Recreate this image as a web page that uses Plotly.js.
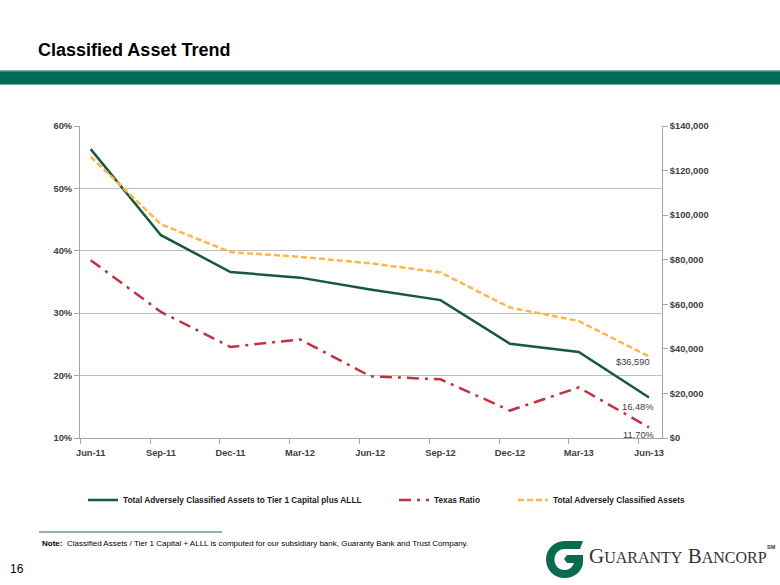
<!DOCTYPE html>
<html>
<head>
<meta charset="utf-8">
<script src="https://cdn.plot.ly/plotly-3.0.1.min.js"></script>
<style>
  html, body { margin: 0; padding: 0; background: #ffffff; }
  #chart { width: 780px; height: 585px; }
</style>
</head>
<body>
<div id="chart"></div>
<script>
// ---- data ----
var quarterLabels = ['Jun-11', 'Sep-11', 'Dec-11', 'Mar-12', 'Jun-12', 'Sep-12', 'Dec-12', 'Mar-13', 'Jun-13'];
var quarterTicks  = ['2011-06-01', '2011-09-01', '2011-12-01', '2012-03-01', '2012-06-01', '2012-09-01', '2012-12-01', '2013-03-01', '2013-06-01'];
var periodDates   = ['2011-06-15', '2011-09-15', '2011-12-15', '2012-03-15', '2012-06-15', '2012-09-15', '2012-12-15', '2013-03-15', '2013-06-15'];
var classifiedToCapital = [0.563, 0.425, 0.366, 0.357, 0.338, 0.321, 0.251, 0.238, 0.1648];
var texasRatio          = [0.385, 0.302, 0.246, 0.258, 0.199, 0.194, 0.144, 0.181, 0.1170];
var classifiedAssets    = [126200, 95900, 83400, 81300, 78400, 74300, 58500, 52500, 36590];
var seriesNames = ['Total Adversely Classified Assets to Tier 1 Capital plus ALLL', 'Texas Ratio', 'Total Adversely Classified Assets'];

// ---- layout helpers (pixel -> paper) ----
var PL = 80, PR = 662, PT = 126, PB = 438;
function px(x) { return (x - PL) / (PR - PL); }
function py(y) { return (PB - y) / (PB - PT); }

var SANS = '"Liberation Sans", Arial, sans-serif';
var TXT = '#404040';

var GREEN = '#17593d', RED = '#c0323f', ORANGE = '#ffb547';

var traces = [
  { x: periodDates, y: classifiedToCapital, type: 'scatter', mode: 'lines', name: seriesNames[0],
    line: { color: GREEN, width: 2.5 }, yaxis: 'y', legend: 'legend', hoverinfo: 'skip' },
  { x: periodDates, y: texasRatio, type: 'scatter', mode: 'lines', name: seriesNames[1],
    line: { color: RED, width: 2.5, dash: '12px,6px,3px,6px' }, yaxis: 'y', legend: 'legend2', hoverinfo: 'skip' },
  { x: periodDates, y: classifiedAssets, type: 'scatter', mode: 'lines', name: seriesNames[2],
    line: { color: ORANGE, width: 2.5, dash: '6px,3px' }, yaxis: 'y2', legend: 'legend3', hoverinfo: 'skip' }
];

var n = periodDates.length - 1;
function fmtPct(v) { return (v * 100).toFixed(2) + '%'; }
function fmtDollar(v) { return '$' + v.toLocaleString('en-US'); }

// G logo mark as inline SVG
var gSvg = '<svg xmlns="http://www.w3.org/2000/svg" viewBox="0 0 37 37" width="37" height="37">' +
  '<path fill="#0b6b4f" d="M37,0 L18.5,0 C8,0 0,8.3 0,18.5 C0,29 8.2,37 18.5,37 C29,37 37,29.5 37,21 L37,14 L21,14 L18,18 L21,22 L28,22 C26.5,26.5 22.8,29 18.5,29 C12.6,29 8.5,24.4 8.5,18.5 C8.5,12.6 12.8,8 18.5,8 L34,8 Z"/></svg>';
var gSrc = 'data:image/svg+xml;base64,' + btoa(gSvg);

var tickFont = { family: SANS, size: 9.3, color: TXT, weight: 'bold' };
var legFont = { family: SANS, size: 8.3, color: '#1a1a1a', weight: 'bold' };

var layout = {
  width: 780, height: 585,
  margin: { l: PL, r: 780 - PR, t: PT, b: 585 - PB, pad: 0 },
  paper_bgcolor: '#ffffff', plot_bgcolor: '#ffffff',
  showlegend: true,
  xaxis: {
    type: 'date', range: ['2011-06-01', '2013-07-02'],
    tickmode: 'array', tickvals: periodDates, ticktext: quarterLabels,
    ticks: 'outside', ticklen: 6, tickcolor: 'rgba(0,0,0,0)',
    minor: { tickmode: 'array', tickvals: quarterTicks, ticks: 'outside', ticklen: 5, tickcolor: '#a6a6a6', tickwidth: 1, showgrid: false },
    showline: true, linecolor: '#a6a6a6', linewidth: 1, showgrid: false, zeroline: false,
    tickfont: tickFont
  },
  yaxis: {
    range: [0.10, 0.60], dtick: 0.10, tick0: 0.10, tickformat: '.0%',
    ticks: 'outside', ticklen: 5, tickcolor: '#a6a6a6',
    showline: true, linecolor: '#a6a6a6', linewidth: 1,
    showgrid: true, gridcolor: '#c0c0c0', gridwidth: 1, zeroline: false,
    tickfont: tickFont
  },
  yaxis2: {
    overlaying: 'y', side: 'right', range: [0, 140000], dtick: 20000, tick0: 0,
    tickprefix: '$', tickformat: ',d',
    ticks: 'outside', ticklen: 5, tickcolor: '#a6a6a6',
    showline: true, linecolor: '#a6a6a6', linewidth: 1, showgrid: false, zeroline: false,
    tickfont: tickFont
  },
  legend:  { x: px(83), y: py(500), xanchor: 'left', yanchor: 'middle', orientation: 'h', bgcolor: 'rgba(0,0,0,0)',
             font: legFont, itemwidth: 30 },
  legend2: { x: px(394), y: py(500), xanchor: 'left', yanchor: 'middle', orientation: 'h', bgcolor: 'rgba(0,0,0,0)',
             font: legFont, itemwidth: 30 },
  legend3: { x: px(513), y: py(500), xanchor: 'left', yanchor: 'middle', orientation: 'h', bgcolor: 'rgba(0,0,0,0)',
             font: legFont, itemwidth: 30 },
  shapes: [
    { type: 'rect', xref: 'paper', yref: 'paper', x0: px(0), x1: px(780), y0: py(84.5), y1: py(70.5),
      fillcolor: '#006b58', line: { width: 0 }, layer: 'above' },
    { type: 'line', xref: 'paper', yref: 'paper', x0: px(0), x1: px(780), y0: py(71), y1: py(71),
      line: { color: '#6fae9f', width: 1 } },
    { type: 'line', xref: 'paper', yref: 'paper', x0: px(0), x1: px(780), y0: py(84.5), y1: py(84.5),
      line: { color: '#6fae9f', width: 1 } },
    { type: 'line', xref: 'paper', yref: 'paper', x0: px(39), x1: px(222), y0: py(532), y1: py(532),
      line: { color: '#8fb3a8', width: 2 } }
  ],
  images: [
    { source: gSrc, xref: 'paper', yref: 'paper', x: px(546), y: py(541), sizex: 37 / (PR - PL), sizey: 37 / (PB - PT),
      xanchor: 'left', yanchor: 'top', sizing: 'stretch', layer: 'above' }
  ],
  annotations: [
    { text: 'Classified Asset Trend', xref: 'paper', yref: 'paper', x: px(36), y: py(50), xanchor: 'left', yanchor: 'middle',
      showarrow: false, font: { family: SANS, size: 18, color: '#000', weight: 'bold' } },
    { text: fmtDollar(classifiedAssets[n]), xref: 'x', yref: 'y2', x: periodDates[n], y: classifiedAssets[n],
      xanchor: 'right', yanchor: 'middle', xshift: 3, yshift: -6, showarrow: false,
      font: { family: SANS, size: 9.3, color: TXT } },
    { text: fmtPct(classifiedToCapital[n]), xref: 'x', yref: 'y', x: periodDates[n], y: classifiedToCapital[n],
      xanchor: 'right', yanchor: 'middle', xshift: 7, yshift: -9, showarrow: false,
      font: { family: SANS, size: 9.3, color: TXT } },
    { text: fmtPct(texasRatio[n]), xref: 'x', yref: 'y', x: periodDates[n], y: texasRatio[n],
      xanchor: 'right', yanchor: 'middle', xshift: 7, yshift: -8, showarrow: false,
      font: { family: SANS, size: 9.3, color: TXT } },
    { text: '<b>Note:</b>  Classified Assets / Tier 1 Capital + ALLL is computed for our subsidiary bank, Guaranty Bank and Trust Company.',
      xref: 'paper', yref: 'paper', x: px(40), y: py(543), xanchor: 'left', yanchor: 'middle', showarrow: false,
      font: { family: SANS, size: 8, color: '#000' } },
    { text: '16', xref: 'paper', yref: 'paper', x: px(8), y: py(569), xanchor: 'left', yanchor: 'middle', showarrow: false,
      font: { family: SANS, size: 12, color: '#000' } },
    { text: 'G<span style="font-size:16px">UARANTY</span> B<span style="font-size:16px">ANCORP</span>',
      xref: 'paper', yref: 'paper', x: px(587), y: py(556), xanchor: 'left', yanchor: 'middle', showarrow: false,
      font: { family: '"Liberation Serif", "DejaVu Serif", serif', size: 21, color: '#333' } },
    { text: 'SM', xref: 'paper', yref: 'paper', x: px(765), y: py(547), xanchor: 'left', yanchor: 'middle', showarrow: false,
      font: { family: SANS, size: 5.5, color: '#333', weight: 'bold' } }
  ]
};

Plotly.newPlot('chart', traces, layout, { staticPlot: true, displayModeBar: false });
</script>
</body>
</html>
